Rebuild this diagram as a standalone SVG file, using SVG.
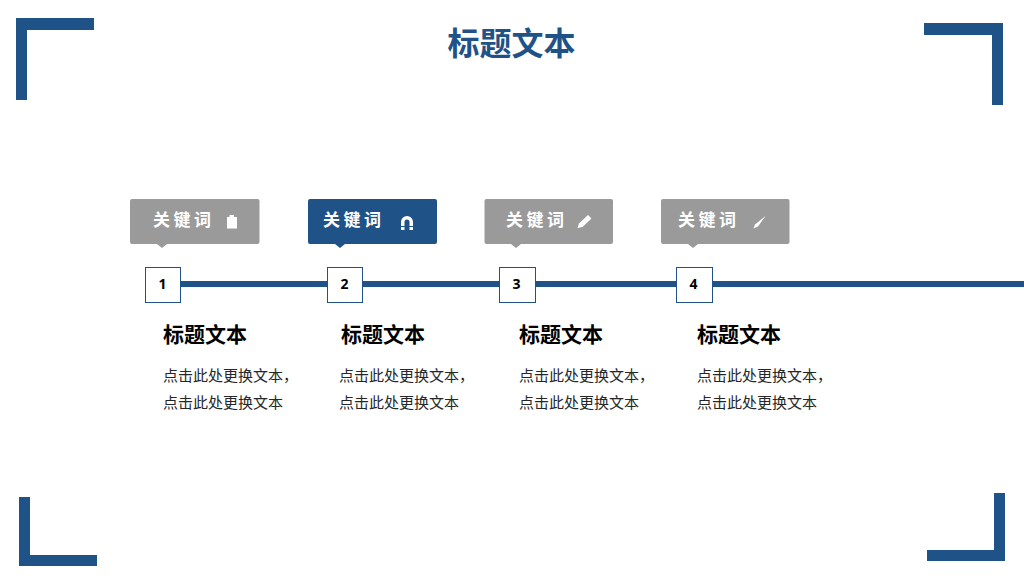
<svg xmlns="http://www.w3.org/2000/svg" width="1024" height="576" viewBox="0 0 1024 576">
<style>
text{font-family:"Noto Sans CJK SC","Liberation Sans",sans-serif}
.corner{fill:#1f5287}
.title{font-size:32px;font-weight:700;fill:#1f5287;text-anchor:middle}
.tag{fill:#9a9a9a}
.tag.on{fill:#1f5287}
.tagt{font-size:17px;font-weight:700;fill:#fff;letter-spacing:3.500px}
.icon{fill:#fff}
.box{fill:#fff;stroke:#1f5287;stroke-width:1}
.num{font-family:"Open Sans","Liberation Sans",sans-serif;font-size:14px;font-weight:700;fill:#000;text-anchor:middle}
.h{font-size:21px;font-weight:700;fill:#000}
.b{font-size:15px;fill:#262626}
</style>
<g id="corners">
<path class="corner" d="M16 18H94V30H27V100H16Z"/>
<path class="corner" d="M924 23H1003V105H992V35H924Z"/>
<path class="corner" d="M19 497H30V555H97V566H19Z"/>
<path class="corner" d="M994 493H1005V561H927V550H994Z"/>
</g>
<text class="title" x="511.500" y="55">标题文本</text>
<g id="connectors">
<rect x="163" y="281" width="861" height="6" fill="#1f5287"/>
</g>
<g id="node1">
<path class="tag" d="M132 199H257.500a2 2 0 0 1 2 2V242a2 2 0 0 1-2 2H167L162 248L157 244H132a2 2 0 0 1-2-2V201a2 2 0 0 1 2-2Z"/>
<text class="tagt" x="153" y="226">关键词</text>
<path class="icon" d="M227 217H229.500V215H234V217H237V228.500H227Z"/>
<rect class="box" x="145.500" y="267.500" width="35" height="35"/>
<text class="num" x="162.500" y="289">1</text>
<text class="h" x="163" y="342">标题文本</text>
<text class="b" x="163" y="381">点击此处更换文本，</text>
<text class="b" x="163" y="408">点击此处更换文本</text>
</g>
<g id="node2">
<path class="tag on" d="M310 199H435a2 2 0 0 1 2 2V242a2 2 0 0 1-2 2H345L340 248L335 244H310a2 2 0 0 1-2-2V201a2 2 0 0 1 2-2Z"/>
<text class="tagt" x="323" y="226">关键词</text>
<path class="icon" d="M401 226V222a6 6 0 0 1 12 0V226H409.500V222a2.500 2.500 0 0 0-5 0V226Z"/>
<rect class="icon" x="401" y="227" width="3.500" height="3"/>
<rect class="icon" x="409.500" y="227" width="3.500" height="3"/>
<rect class="box" x="327.500" y="267.500" width="35" height="35"/>
<text class="num" x="344.500" y="289">2</text>
<text class="h" x="341" y="342">标题文本</text>
<text class="b" x="339" y="381">点击此处更换文本，</text>
<text class="b" x="339" y="408">点击此处更换文本</text>
</g>
<g id="node3">
<path class="tag" d="M486.500 199H611a2 2 0 0 1 2 2V242a2 2 0 0 1-2 2H521L516 248L511 244H486.500a2 2 0 0 1-2-2V201a2 2 0 0 1 2-2Z"/>
<text class="tagt" x="506" y="226">关键词</text>
<path class="icon" d="M577.500 228L579 223.500L588 215L591.500 218.500L582.500 227Z"/>
<rect class="box" x="499.500" y="267.500" width="36" height="35"/>
<text class="num" x="516.500" y="289">3</text>
<text class="h" x="519" y="342">标题文本</text>
<text class="b" x="519" y="381">点击此处更换文本，</text>
<text class="b" x="519" y="408">点击此处更换文本</text>
</g>
<g id="node4">
<path class="tag" d="M663 199H787.500a2 2 0 0 1 2 2V242a2 2 0 0 1-2 2H698L693 248L688 244H663a2 2 0 0 1-2-2V201a2 2 0 0 1 2-2Z"/>
<text class="tagt" x="678" y="226">关键词</text>
<path class="icon" d="M753.500 228.500L755 224.500L765.500 216L758 226.500Z"/>
<rect class="box" x="676.500" y="267.500" width="36" height="35"/>
<text class="num" x="693.500" y="289">4</text>
<text class="h" x="697" y="342">标题文本</text>
<text class="b" x="697" y="381">点击此处更换文本，</text>
<text class="b" x="697" y="408">点击此处更换文本</text>
</g>
</svg>
